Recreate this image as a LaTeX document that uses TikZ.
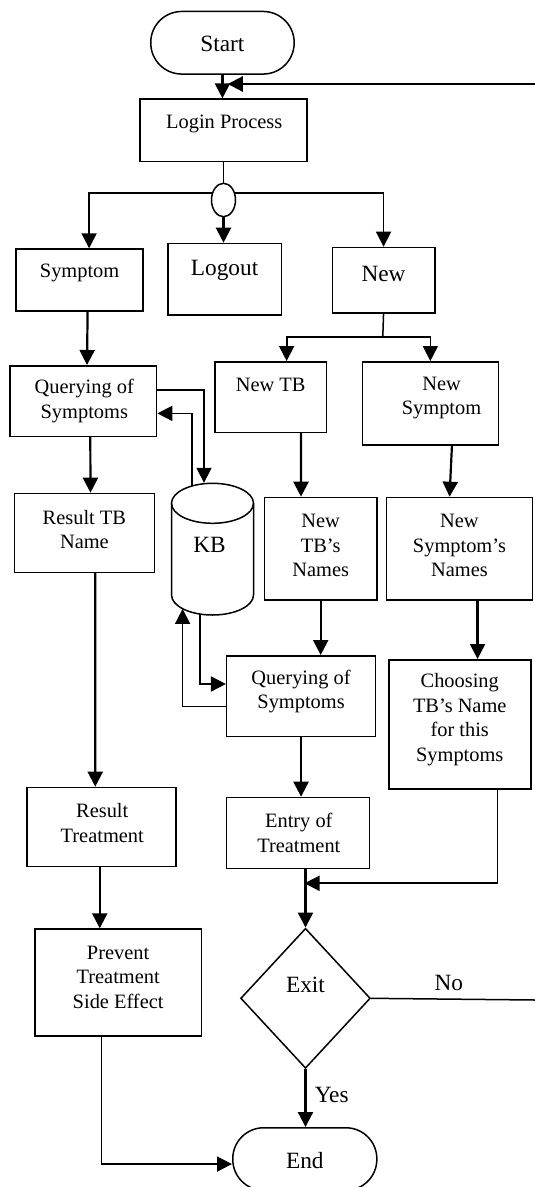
\documentclass[tikz,border=0pt]{standalone}
\usepackage{fontspec}
\setmainfont{Liberation Serif}
\usetikzlibrary{shapes.geometric, arrows.meta}
\begin{document}
\begin{tikzpicture}[x=1pt,y=-1pt,
  box/.style={draw, line width=1.5pt, rectangle, inner sep=0pt, anchor=north west},
  term/.style={draw, line width=1.5pt, rectangle, rounded corners=31pt, inner sep=0pt, anchor=north west},
  sm/.style={font=\fontsize{20.4}{24.5}\selectfont, align=center, inner sep=0pt},
  lg/.style={font=\fontsize{23.3}{28}\selectfont, align=center, inner sep=0pt},
  arr/.style={line width=2.2pt, -{Triangle[length=15pt,width=15pt]}},
  marr/.style={line width=1.7pt, -{Triangle[length=15pt,width=15pt]}},
  ln/.style={line width=1.5pt}
]
\fill[white] (0,0) rectangle (535,1187);
\useasboundingbox (0,0) rectangle (535,1187);

% nodes
\node[term, minimum width=143.4pt, minimum height=62.6pt, label={[lg,yshift=-1.3pt]center:Start}] (start) at (150,10.7) {};
\node[box, minimum width=166.8pt, minimum height=62.4pt, label={[sm,yshift=6.2pt,xshift=0.9pt]center:Login Process}] (login) at (139.2,98.3) {};
\node[draw, ellipse, line width=1.5pt, minimum width=24pt, minimum height=33.4pt, inner sep=0pt] (circ) at (223.5,200) {};
\node[box, minimum width=126.9pt, minimum height=61.7pt, label={[sm,yshift=6.5pt]center:Symptom}] (sym) at (15.4,248.3) {};
\node[box, minimum width=113.3pt, minimum height=71.3pt, label={[lg,yshift=9.1pt]center:Logout}] (logout) at (167.2,242.7) {};
\node[box, minimum width=102.4pt, minimum height=65.6pt, label={[lg,yshift=6.2pt]center:New}] (new) at (331.6,246.7) {};
\node[box, minimum width=146.7pt, minimum height=70.7pt, label={[sm,xshift=1pt]center:Querying of\\Symptoms}] (q1) at (9.2,365) {};
\node[box, minimum width=111.8pt, minimum height=70.7pt, label={[sm,yshift=12.1pt]center:New TB}] (newtb) at (214,361) {};
\node[box, minimum width=135.8pt, minimum height=83pt, label={[sm,yshift=5.3pt,xshift=11.2pt]center:New\\Symptom}] (newsym) at (361.7,361) {};
\node[minimum width=82pt, minimum height=132pt, inner sep=0pt, label={[lg,yshift=4pt,xshift=-3pt]center:KB}] (kb) at (212.5,549) {};
\node[box, minimum width=139.9pt, minimum height=79pt, label={[sm,yshift=3.5pt]center:Result TB\\Name}] (rtbn) at (13.7,492.7) {};
\node[box, minimum width=112.3pt, minimum height=102.6pt, label={[sm,yshift=3.2pt]center:New\\TB’s\\Names}] (ntbn) at (263.8,496.7) {};
\node[box, minimum width=146pt, minimum height=102.6pt, label={[sm,yshift=3.2pt]center:New\\Symptom’s\\Names}] (nsn) at (385.7,496.7) {};
\node[box, minimum width=148.8pt, minimum height=80.7pt, label={[sm,yshift=4.6pt]center:Querying of\\Symptoms}] (q2) at (225.9,655) {};
\node[box, minimum width=142pt, minimum height=129.3pt, label={[sm,yshift=4.7pt]center:Choosing\\TB’s Name\\for this\\Symptoms}] (choose) at (388,659) {};
\node[box, minimum width=148.8pt, minimum height=79pt, label={[sm,yshift=3.7pt,xshift=0.8pt]center:Result\\Treatment}] (rt) at (26.3,786.7) {};
\node[box, minimum width=142.7pt, minimum height=71pt, label={[sm,xshift=0.8pt]center:Entry of\\Treatment}] (entry) at (225.9,796.7) {};
\node[box, minimum width=166.6pt, minimum height=106.7pt, label={[sm,yshift=5.2pt]center:Prevent\\Treatment\\Side Effect}] (prevent) at (34.1,928.3) {};
\node[draw, diamond, line width=1.5pt, minimum width=129.7pt, minimum height=140pt, inner sep=0pt, label={[lg,yshift=13.3pt]center:Exit}] (exit) at (305.5,998.3) {};
\node[term, minimum width=144.1pt, minimum height=62.6pt, label={[lg,yshift=-1pt]center:End}] (endn) at (232,1127) {};
\node[lg] (nolbl) at (448.8,983.3) {No};
\node[lg] (yeslbl) at (331.7,1095) {Yes};

% KB cylinder
\draw[ln] (212.5,503.3) ellipse [x radius=41pt, y radius=20pt];
\draw[ln] (171.5,503.3) -- (171.5,595) arc[start angle=180, end angle=360, x radius=41pt, y radius=20pt] -- (253.5,503.3);

% free ends
\coordinate (fbR) at (535,84);
\coordinate (noR) at (535,1000);
\coordinate (spl) at (382.8,336.7);
\coordinate (mrg) at (304.5,883.3);

% connectors
\draw[arr] (start.south) -- (start.south |- login.north);
\draw[arr] (fbR) -- ([xshift=4.4pt]login.north |- fbR);
\draw[ln] (circ.north |- login.south) -- (circ.north);
\draw[marr] (circ.150) -| ([xshift=9.5pt]sym.north);
\draw[arr] (circ.south) -- (circ.south |- logout.north);
\draw[marr] (circ.30) -| (new.north);
\draw[arr] ([xshift=8pt]sym.south) -- ([xshift=3.7pt]q1.north);
\draw[ln] (new.south) -- (spl);
\draw[marr] (spl) -| ([xshift=16pt]newtb.north);
\draw[marr] (spl) -| (newsym.north);
\draw[marr] ([yshift=11.4pt]q1.east) -| ([xshift=-8.5pt]kb.north);
\draw[marr] ([xshift=-20.5pt,yshift=-3pt]kb.north) |- ([yshift=-12.3pt]q1.east);
\draw[arr] ([xshift=7pt]q1.south) -- ([xshift=6.1pt]rtbn.north);
\draw[arr] ([xshift=30.4pt]newtb.south) -- ([xshift=-19.7pt]ntbn.north);
\draw[arr] ([xshift=21.6pt]newsym.south) -- ([xshift=-9.9pt]nsn.north);
\draw[arr] ([xshift=10.8pt]rtbn.south) -- ([xshift=-6.2pt]rt.north);
\draw[marr] ([xshift=-12.8pt,yshift=1pt]kb.south) |- ([yshift=12.1pt]q2.west);
\draw[marr] ([yshift=-10.3pt]q2.west) -| ([xshift=-29.9pt,yshift=6.3pt]kb.south);
\draw[arr] (ntbn.south) -- (ntbn.south |- q2.north);
\draw[arr] ([xshift=18.1pt]nsn.south) -- ([xshift=17.8pt]choose.north);
\draw[arr] (q2.south) -- (q2.south |- entry.north);
\draw[marr] ([xshift=37.6pt]choose.south) |- (mrg);
\draw[arr] (exit.north |- entry.south) -- (exit.north);
\draw[arr] ([xshift=-1.7pt]rt.south) -- ([xshift=-18.4pt]prevent.north);
\draw[ln] (exit.east) -- (noR);
\draw[arr] (exit.south) -- (exit.south |- endn.north);
\draw[marr] ([xshift=-16.7pt]prevent.south) |- ([yshift=-5pt]endn.west);
\end{tikzpicture}
\end{document}
